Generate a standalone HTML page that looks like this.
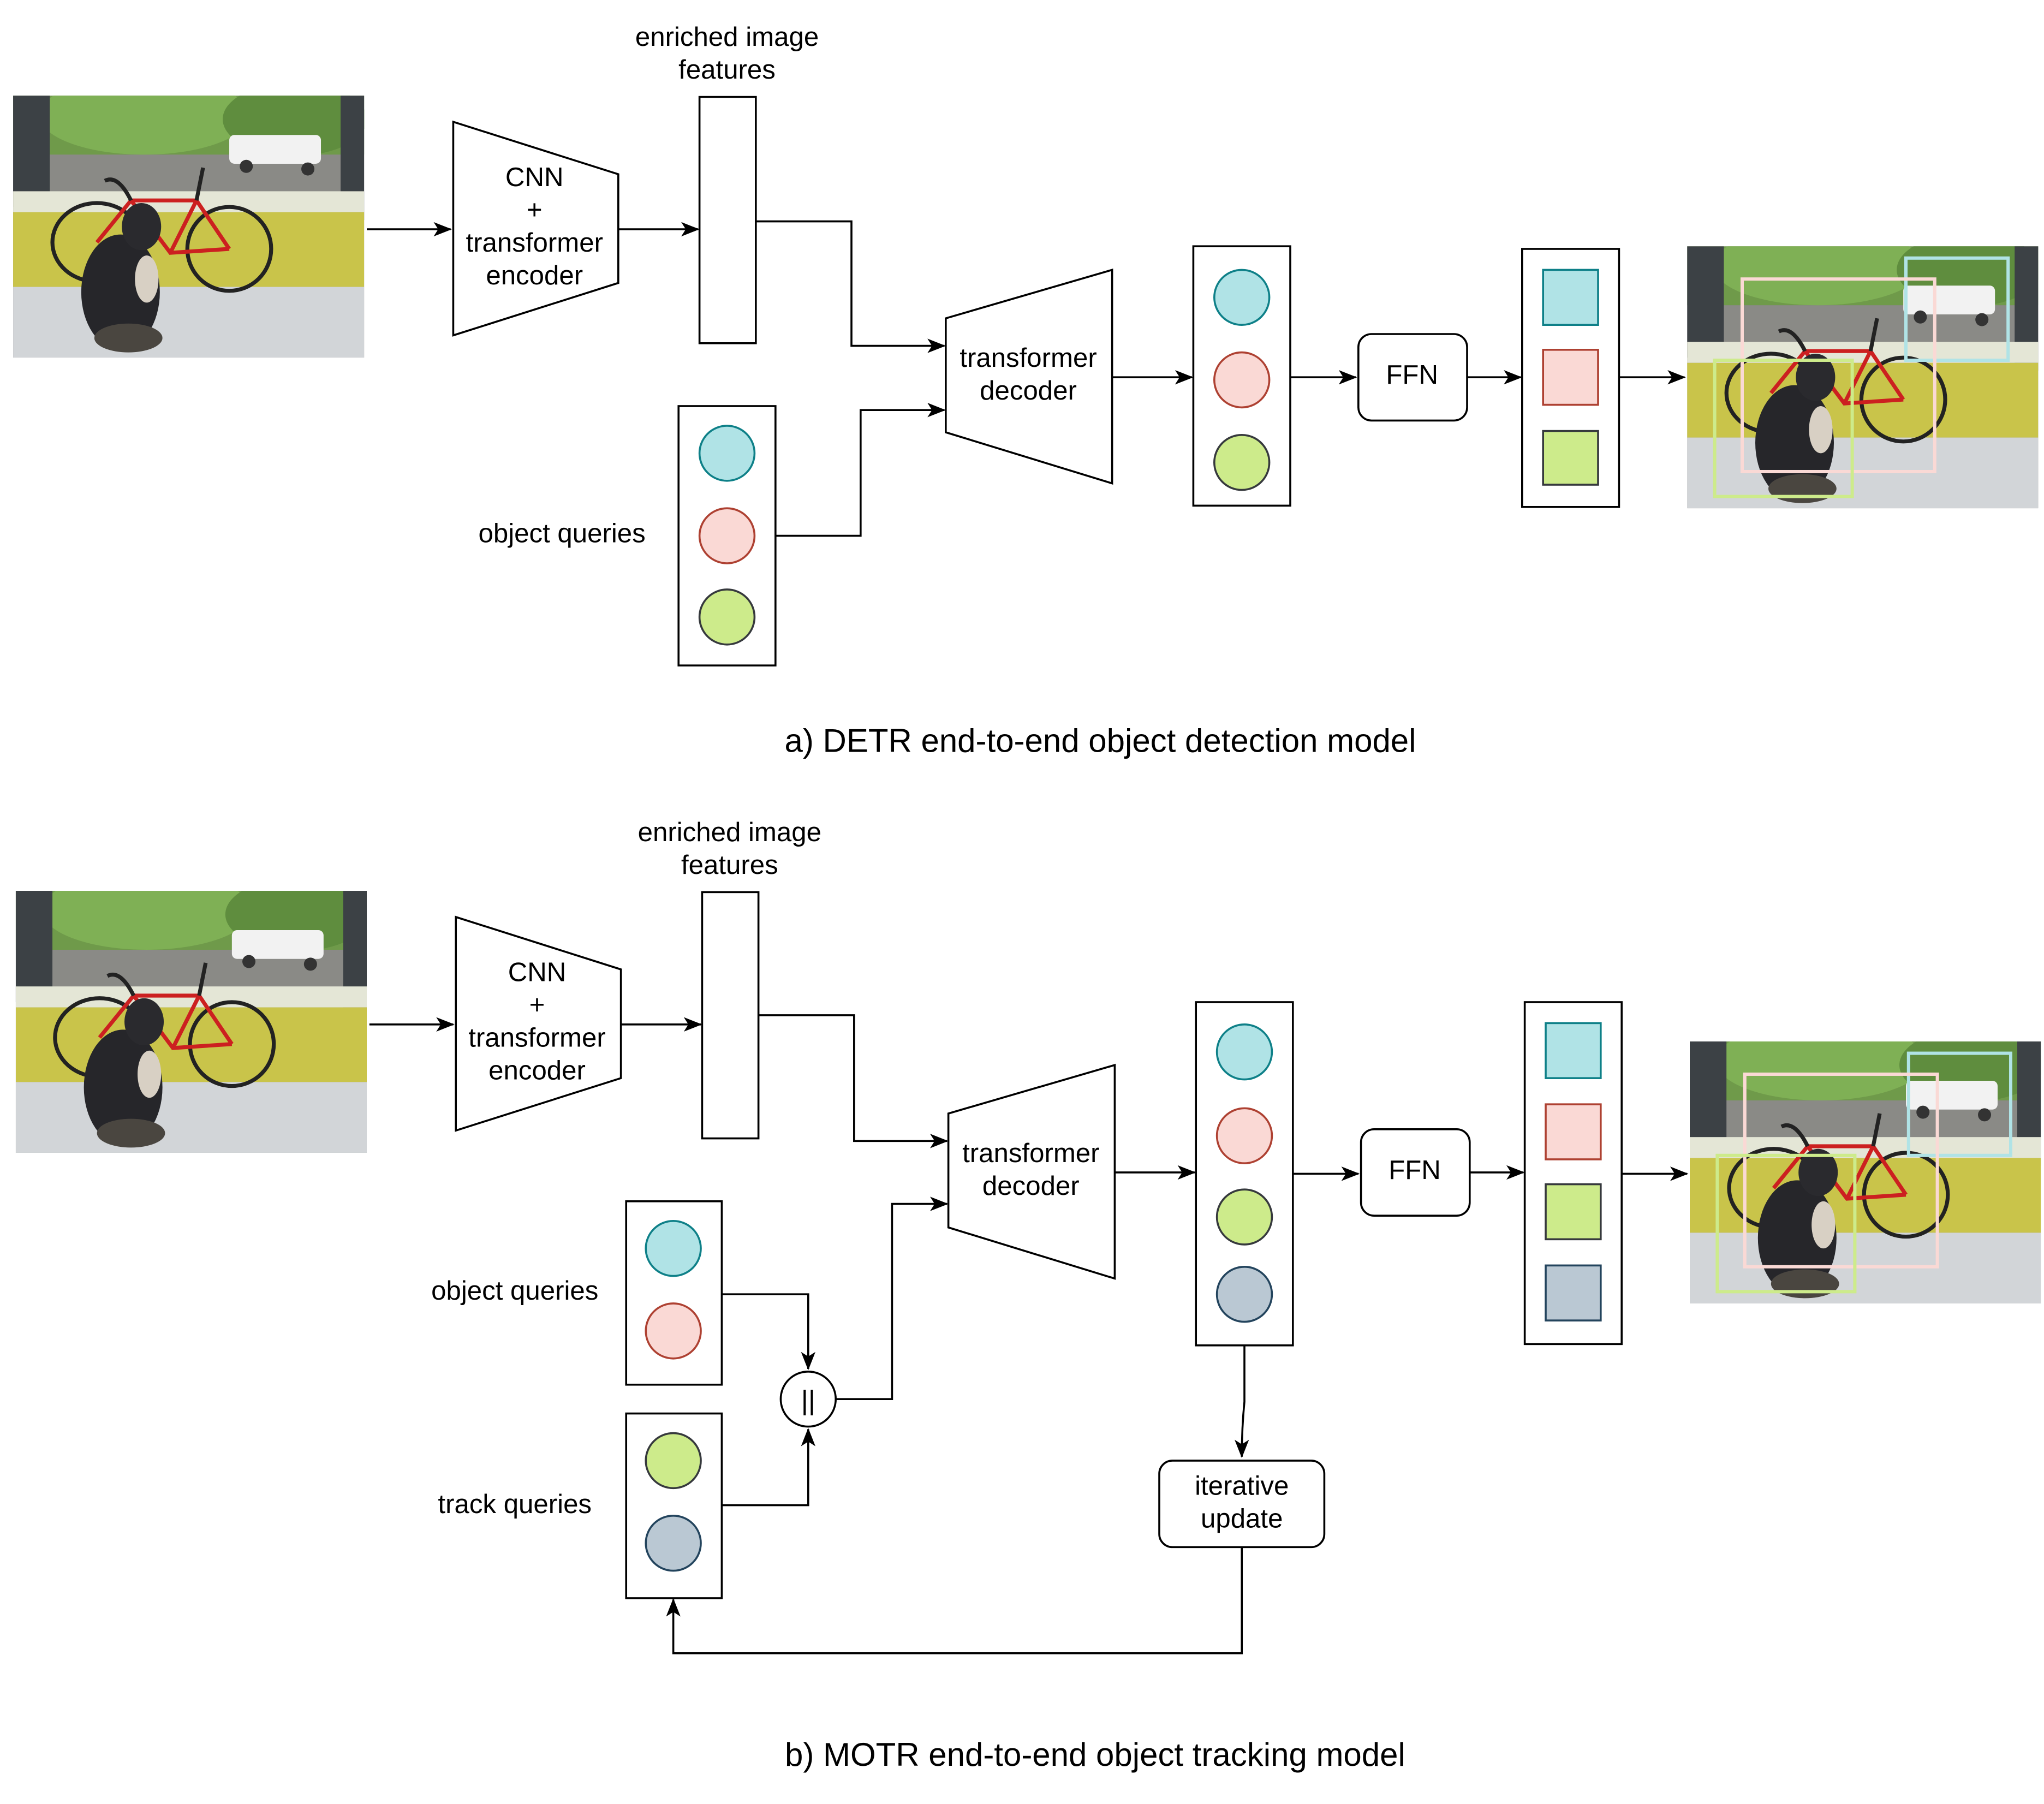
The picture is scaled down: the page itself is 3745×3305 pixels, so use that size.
<!DOCTYPE html>
<html><head><meta charset="utf-8"><style>
html,body{margin:0;padding:0;background:#fff;}
svg{display:block;}
text{font-family:"Liberation Sans",Arial,sans-serif;fill:#000;}
</style></head><body>
<svg width="3745" height="3305" viewBox="0 0 1560.4 1377.1" xmlns="http://www.w3.org/2000/svg">
<defs>
<marker id="ar" markerWidth="14" markerHeight="12" refX="13" refY="6" orient="auto" markerUnits="userSpaceOnUse">
<path d="M0,0.5 L14,6 L0,11.5 L3.5,6 Z" fill="#000"/></marker>
<clipPath id="pc"><rect x="0" y="0" width="268" height="200"/></clipPath>
<g id="photo">
<g clip-path="url(#pc)">
<rect x="0" y="0" width="268" height="200" fill="#8a8a86"/>
<rect x="0" y="0" width="268" height="45" fill="#6f9a4a"/>
<ellipse cx="100" cy="15" rx="80" ry="30" fill="#7fb055"/>
<ellipse cx="215" cy="18" rx="55" ry="28" fill="#5f8d3e"/>
<rect x="165" y="30" width="70" height="22" rx="4" fill="#f2f2f2"/>
<circle cx="178" cy="54" r="5" fill="#333"/><circle cx="225" cy="56" r="5" fill="#333"/>
<rect x="0" y="0" width="28" height="85" fill="#3c4145"/>
<rect x="250" y="0" width="18" height="95" fill="#3c4145"/>
<rect x="0" y="73" width="268" height="16" fill="#e4e6d6"/>
<rect x="0" y="89" width="268" height="57" fill="#c9c44a"/>
<rect x="0" y="146" width="268" height="54" fill="#d2d5d8"/>
<ellipse cx="64" cy="112" rx="34" ry="30" fill="none" stroke="#222" stroke-width="3"/>
<ellipse cx="165" cy="117" rx="32" ry="32" fill="none" stroke="#222" stroke-width="3"/>
<path d="M64,112 L90,80 L140,80 L165,117 M90,80 L120,120 L165,117 M140,80 L120,120" stroke="#cc2020" stroke-width="3" fill="none"/>
<path d="M70,65 Q80,60 90,80 M140,80 L145,55" stroke="#222" stroke-width="3" fill="none"/>
<ellipse cx="82" cy="150" rx="30" ry="44" fill="#26262a"/>
<ellipse cx="98" cy="100" rx="15" ry="18" fill="#2a2a2e"/>
<ellipse cx="88" cy="185" rx="26" ry="11" fill="#4a4640"/>
<ellipse cx="102" cy="140" rx="9" ry="18" fill="#d8d0c4"/>
</g></g>
</defs>

<!-- ===== Panel a ===== -->
<use href="#photo" x="10" y="73"/>
<line x1="280" y1="175" x2="344" y2="175" stroke="#000" stroke-width="1.5" marker-end="url(#ar)"/>
<polygon points="346,93 472,133 472,216 346,256" fill="#fff" stroke="#000" stroke-width="1.5"/>
<g font-size="20.5" text-anchor="middle">
<text x="408" y="142">CNN</text><text x="408" y="167">+</text><text x="408" y="192">transformer</text><text x="408" y="217">encoder</text>
</g>
<line x1="472" y1="175" x2="533" y2="175" stroke="#000" stroke-width="1.5" marker-end="url(#ar)"/>
<rect x="534" y="74" width="43" height="188" fill="#fff" stroke="#000" stroke-width="1.5"/>
<g font-size="20.5" text-anchor="middle"><text x="555" y="35">enriched image</text><text x="555" y="60">features</text></g>
<polyline points="577,169 650,169 650,264 721,264" fill="none" stroke="#000" stroke-width="1.5" marker-end="url(#ar)"/>
<polygon points="722,243 849,206 849,369 722,330" fill="#fff" stroke="#000" stroke-width="1.5"/>
<g font-size="20.5" text-anchor="middle"><text x="785" y="280">transformer</text><text x="785" y="305">decoder</text></g>
<rect x="518" y="310" width="74" height="198" fill="#fff" stroke="#000" stroke-width="1.5"/>
<circle cx="555" cy="346" r="21" fill="#b0e3e6" stroke="#0e8088" stroke-width="1.5"/>
<circle cx="555" cy="409" r="21" fill="#fad9d5" stroke="#ae4132" stroke-width="1.5"/>
<circle cx="555" cy="471" r="21" fill="#cdeb8b" stroke="#36393d" stroke-width="1.5"/>
<text x="429" y="414" font-size="20.5" text-anchor="middle">object queries</text>
<polyline points="592,409 657,409 657,313 721,313" fill="none" stroke="#000" stroke-width="1.5" marker-end="url(#ar)"/>
<line x1="849" y1="288" x2="910" y2="288" stroke="#000" stroke-width="1.5" marker-end="url(#ar)"/>
<rect x="911" y="188" width="74" height="198" fill="#fff" stroke="#000" stroke-width="1.5"/>
<circle cx="948" cy="227" r="21" fill="#b0e3e6" stroke="#0e8088" stroke-width="1.5"/>
<circle cx="948" cy="290" r="21" fill="#fad9d5" stroke="#ae4132" stroke-width="1.5"/>
<circle cx="948" cy="353" r="21" fill="#cdeb8b" stroke="#36393d" stroke-width="1.5"/>
<line x1="985" y1="288" x2="1035" y2="288" stroke="#000" stroke-width="1.5" marker-end="url(#ar)"/>
<rect x="1037" y="255" width="83" height="66" rx="10" fill="#fff" stroke="#000" stroke-width="1.5"/>
<text x="1078" y="293" font-size="20.5" text-anchor="middle">FFN</text>
<line x1="1120" y1="288" x2="1161" y2="288" stroke="#000" stroke-width="1.5" marker-end="url(#ar)"/>
<rect x="1162" y="190" width="74" height="197" fill="#fff" stroke="#000" stroke-width="1.5"/>
<rect x="1178" y="206" width="42" height="42" fill="#b0e3e6" stroke="#0e8088" stroke-width="1.5"/>
<rect x="1178" y="267" width="42" height="42" fill="#fad9d5" stroke="#ae4132" stroke-width="1.5"/>
<rect x="1178" y="329" width="42" height="41" fill="#cdeb8b" stroke="#36393d" stroke-width="1.5"/>
<line x1="1236" y1="288" x2="1286" y2="288" stroke="#000" stroke-width="1.5" marker-end="url(#ar)"/>
<use href="#photo" x="1288" y="188"/>
<g fill="none" stroke-width="2.5">
<rect x="1455" y="197" width="78" height="78" stroke="#b0e3e6"/>
<rect x="1330" y="213" width="147" height="147" stroke="#fad9d5"/>
<rect x="1309" y="275" width="105" height="104" stroke="#cdeb8b"/>
</g>
<text x="840" y="574" font-size="25" text-anchor="middle">a) DETR end-to-end object detection model</text>

<!-- ===== Panel b ===== -->
<use href="#photo" x="12" y="680"/>
<line x1="282" y1="782" x2="346" y2="782" stroke="#000" stroke-width="1.5" marker-end="url(#ar)"/>
<polygon points="348,700 474,740 474,823 348,863" fill="#fff" stroke="#000" stroke-width="1.5"/>
<g font-size="20.5" text-anchor="middle">
<text x="410" y="749">CNN</text><text x="410" y="774">+</text><text x="410" y="799">transformer</text><text x="410" y="824">encoder</text>
</g>
<line x1="474" y1="782" x2="535" y2="782" stroke="#000" stroke-width="1.5" marker-end="url(#ar)"/>
<rect x="536" y="681" width="43" height="188" fill="#fff" stroke="#000" stroke-width="1.5"/>
<g font-size="20.5" text-anchor="middle"><text x="557" y="642">enriched image</text><text x="557" y="667">features</text></g>
<polyline points="579,775 652,775 652,871 723,871" fill="none" stroke="#000" stroke-width="1.5" marker-end="url(#ar)"/>
<polygon points="724,850 851,813 851,976 724,937" fill="#fff" stroke="#000" stroke-width="1.5"/>
<g font-size="20.5" text-anchor="middle"><text x="787" y="887">transformer</text><text x="787" y="912">decoder</text></g>
<line x1="851" y1="895" x2="912" y2="895" stroke="#000" stroke-width="1.5" marker-end="url(#ar)"/>
<rect x="913" y="765" width="74" height="262" fill="#fff" stroke="#000" stroke-width="1.5"/>
<circle cx="950" cy="803" r="21" fill="#b0e3e6" stroke="#0e8088" stroke-width="1.5"/>
<circle cx="950" cy="867" r="21" fill="#fad9d5" stroke="#ae4132" stroke-width="1.5"/>
<circle cx="950" cy="929" r="21" fill="#cdeb8b" stroke="#36393d" stroke-width="1.5"/>
<circle cx="950" cy="988" r="21" fill="#bac8d3" stroke="#23445d" stroke-width="1.5"/>
<line x1="987" y1="896" x2="1037" y2="896" stroke="#000" stroke-width="1.5" marker-end="url(#ar)"/>
<rect x="1039" y="862" width="83" height="66" rx="10" fill="#fff" stroke="#000" stroke-width="1.5"/>
<text x="1080" y="900" font-size="20.5" text-anchor="middle">FFN</text>
<line x1="1122" y1="895" x2="1163" y2="895" stroke="#000" stroke-width="1.5" marker-end="url(#ar)"/>
<rect x="1164" y="765" width="74" height="261" fill="#fff" stroke="#000" stroke-width="1.5"/>
<rect x="1180" y="781" width="42" height="42" fill="#b0e3e6" stroke="#0e8088" stroke-width="1.5"/>
<rect x="1180" y="843" width="42" height="42" fill="#fad9d5" stroke="#ae4132" stroke-width="1.5"/>
<rect x="1180" y="904" width="42" height="42" fill="#cdeb8b" stroke="#36393d" stroke-width="1.5"/>
<rect x="1180" y="966" width="42" height="42" fill="#bac8d3" stroke="#23445d" stroke-width="1.5"/>
<line x1="1238" y1="896" x2="1288" y2="896" stroke="#000" stroke-width="1.5" marker-end="url(#ar)"/>
<use href="#photo" x="1290" y="795"/>
<g fill="none" stroke-width="2.5">
<rect x="1457" y="804" width="78" height="78" stroke="#b0e3e6"/>
<rect x="1332" y="820" width="147" height="147" stroke="#fad9d5"/>
<rect x="1311" y="882" width="105" height="104" stroke="#cdeb8b"/>
</g>
<rect x="478" y="917" width="73" height="140" fill="#fff" stroke="#000" stroke-width="1.5"/>
<circle cx="514" cy="953" r="21" fill="#b0e3e6" stroke="#0e8088" stroke-width="1.5"/>
<circle cx="514" cy="1016" r="21" fill="#fad9d5" stroke="#ae4132" stroke-width="1.5"/>
<text x="393" y="992" font-size="20.5" text-anchor="middle">object queries</text>
<rect x="478" y="1079" width="73" height="141" fill="#fff" stroke="#000" stroke-width="1.5"/>
<circle cx="514" cy="1115" r="21" fill="#cdeb8b" stroke="#36393d" stroke-width="1.5"/>
<circle cx="514" cy="1178" r="21" fill="#bac8d3" stroke="#23445d" stroke-width="1.5"/>
<text x="393" y="1155" font-size="20.5" text-anchor="middle">track queries</text>
<circle cx="617" cy="1068" r="21" fill="#fff" stroke="#000" stroke-width="1.5"/>
<text x="617" y="1076" font-size="21" text-anchor="middle">||</text>
<polyline points="551,988 617,988 617,1045" fill="none" stroke="#000" stroke-width="1.5" marker-end="url(#ar)"/>
<polyline points="551,1149 617,1149 617,1091" fill="none" stroke="#000" stroke-width="1.5" marker-end="url(#ar)"/>
<polyline points="638,1068 681,1068 681,919 723,919" fill="none" stroke="#000" stroke-width="1.5" marker-end="url(#ar)"/>
<path d="M950,1027 L950,1070 Q948,1090 948,1112" fill="none" stroke="#000" stroke-width="1.5" marker-end="url(#ar)"/>
<rect x="885" y="1115" width="126" height="66" rx="10" fill="#fff" stroke="#000" stroke-width="1.5"/>
<g font-size="20.5" text-anchor="middle"><text x="948" y="1141">iterative</text><text x="948" y="1166">update</text></g>
<polyline points="948,1181 948,1262 514,1262 514,1221" fill="none" stroke="#000" stroke-width="1.5" marker-end="url(#ar)"/>
<text x="836" y="1348" font-size="25" text-anchor="middle">b) MOTR end-to-end object tracking model</text>
</svg>
</body></html>
